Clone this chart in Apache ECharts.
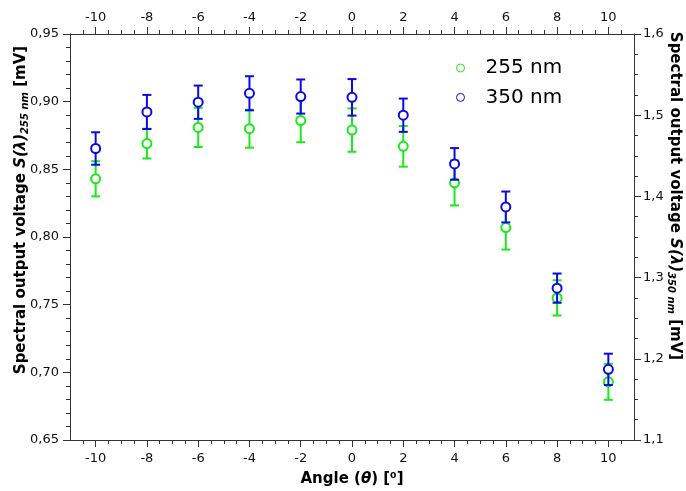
<!DOCTYPE html>
<html><head><meta charset="utf-8">
<script src="https://cdn.jsdelivr.net/npm/echarts@6/dist/echarts.min.js"></script>
<style>html,body{margin:0;padding:0;background:#fff}#c{width:686px;height:491px}</style>
</head><body><div id="c"></div>
<script>
// ---- data ----
const angles = [-10, -8, -6, -4, -2, 0, 2, 4, 6, 8, 10];
const v255 = [0.843, 0.869, 0.881, 0.880, 0.886, 0.879, 0.867, 0.840, 0.807, 0.755, 0.693];
const e255 = [0.013, 0.011, 0.0145, 0.014, 0.016, 0.016, 0.015, 0.0167, 0.0163, 0.013, 0.0133];
const v350 = [1.459, 1.504, 1.516, 1.527, 1.523, 1.522, 1.500, 1.440, 1.387, 1.287, 1.187];
const e350 = [0.020, 0.021, 0.0205, 0.021, 0.021, 0.0225, 0.0205, 0.0195, 0.019, 0.018, 0.0193];
const angleTicks = [-10, -8, -6, -4, -2, 0, 2, 4, 6, 8, 10];
const angleMinorTicks = [-10.5, -9.5, -9, -8.5, -7.5, -7, -6.5, -5.5, -5, -4.5, -3.5, -3, -2.5, -1.5, -1, -0.5,
  0.5, 1, 1.5, 2.5, 3, 3.5, 4.5, 5, 5.5, 6.5, 7, 7.5, 8.5, 9, 9.5, 10.5];
const seriesNames = ['255 nm', '350 nm'];
const colors = ['#1aea1a', '#0a0ae8'];

const FONT = 'DejaVu Sans';
const lineCol = '#333';

function xAx(pos, major, showLabel) {
  return {
    type: 'value', position: pos, min: -11, max: 11,
    splitLine: { show: false },
    axisLine: { show: major, onZero: false, lineStyle: { color: lineCol, width: 1 } },
    axisTick: { show: true, customValues: major ? angleTicks : angleMinorTicks, length: major ? 7 : 4, inside: false,
      lineStyle: { color: lineCol, width: 1 } },
    axisLabel: { show: showLabel, customValues: angleTicks, margin: pos === 'bottom' ? 12 : 10,
      fontFamily: FONT, fontSize: 13, color: '#111' }
  };
}

const errData = (vals, errs) => angles.map((a, i) => [a, vals[i], errs[i]]);

function errSeries(name, vals, errs, yIdx, color, z) {
  return {
    type: 'custom', name: name + ' err', xAxisIndex: 0, yAxisIndex: yIdx,
    data: errData(vals, errs), silent: true, z: z,
    renderItem(params, api) {
      const x = api.value(0), y = api.value(1), e = api.value(2);
      const hi = api.coord([x, y + e]);
      const lo = api.coord([x, y - e]);
      const cw = 4.5;
      const st = { stroke: color, lineWidth: 2 };
      return { type: 'group', children: [
        { type: 'line', shape: { x1: hi[0], y1: hi[1], x2: lo[0], y2: lo[1] }, style: st },
        { type: 'line', shape: { x1: hi[0] - cw, y1: hi[1], x2: hi[0] + cw, y2: hi[1] }, style: st },
        { type: 'line', shape: { x1: lo[0] - cw, y1: lo[1], x2: lo[0] + cw, y2: lo[1] }, style: st }
      ]};
    }
  };
}

const titleRich = {
  b: { fontFamily: FONT, fontWeight: 'bold', fontSize: 15, fill: '#000', lineHeight: 18 },
  i: { fontFamily: FONT, fontWeight: 'bold', fontStyle: 'italic', fontSize: 15, fill: '#000', lineHeight: 18 },
  s: { fontFamily: FONT, fontWeight: 'bold', fontStyle: 'italic', fontSize: 10, fill: '#000', lineHeight: 10, verticalAlign: 'bottom' }
};

const chart = echarts.init(document.getElementById('c'), null, { renderer: 'canvas' });
chart.setOption({
  animation: false,
  backgroundColor: '#fff',
  grid: { left: 70, right: 52, top: 34, bottom: 51, containLabel: false },
  xAxis: [
    xAx('bottom', true, true),
    xAx('bottom', false, false),
    xAx('top', true, true),
    xAx('top', false, false)
  ],
  yAxis: [
    {
      type: 'value', position: 'left', min: 0.65, max: 0.95, interval: 0.05,
      splitLine: { show: false },
      axisLine: { show: true, onZero: false, lineStyle: { color: lineCol, width: 1 } },
      axisTick: { show: true, length: 7, lineStyle: { color: lineCol } },
      minorTick: { show: true, splitNumber: 5, length: 4, lineStyle: { color: lineCol } },
      axisLabel: { margin: 11, fontFamily: FONT, fontSize: 13, color: '#111',
        formatter: v => v.toFixed(2).replace('.', ',') }
    },
    {
      type: 'value', position: 'right', min: 1.1, max: 1.6, interval: 0.1,
      splitLine: { show: false },
      axisLine: { show: true, onZero: false, lineStyle: { color: lineCol, width: 1 } },
      axisTick: { show: true, length: 7, lineStyle: { color: lineCol } },
      minorTick: { show: true, splitNumber: 4, length: 4, lineStyle: { color: lineCol } },
      axisLabel: { margin: 9, fontFamily: FONT, fontSize: 13, color: '#111',
        formatter: v => v.toFixed(1).replace('.', ',') }
    }
  ],
  legend: {
    orient: 'vertical', left: 451, top: 51, itemGap: 5.4,
    itemWidth: 8, itemHeight: 8,
    textStyle: { fontFamily: FONT, fontSize: 20, color: '#000', lineHeight: 24, padding: [0, 0, 0, 16] },
    data: [
      { name: seriesNames[0], icon: 'circle', itemStyle: { color: 'transparent', borderColor: colors[0], borderWidth: 1 } },
      { name: seriesNames[1], icon: 'circle', itemStyle: { color: 'transparent', borderColor: colors[1], borderWidth: 1 } }
    ]
  },
  series: [
    errSeries(seriesNames[0], v255, e255, 0, colors[0], 2),
    {
      type: 'scatter', name: seriesNames[0], xAxisIndex: 0, yAxisIndex: 0, z: 3,
      symbol: 'emptyCircle', symbolSize: 9,
      itemStyle: { color: colors[0], borderWidth: 2, opacity: 1 },
      data: angles.map((a, i) => [a, v255[i]])
    },
    errSeries(seriesNames[1], v350, e350, 1, colors[1], 4),
    {
      type: 'scatter', name: seriesNames[1], xAxisIndex: 0, yAxisIndex: 1, z: 5,
      symbol: 'emptyCircle', symbolSize: 9,
      itemStyle: { color: colors[1], borderWidth: 2, opacity: 1 },
      data: angles.map((a, i) => [a, v350[i]])
    }
  ],
  graphic: [
    { type: 'text', x: 21, y: 210, rotation: Math.PI / 2,
      style: { text: '{b|Spectral output voltage }{i|S(λ)}{s|255 nm}{b| [mV]}', rich: titleRich,
        align: 'center', verticalAlign: 'middle', fill: '#000' } },
    { type: 'text', x: 675, y: 196, rotation: -Math.PI / 2,
      style: { text: '{b|Spectral output voltage }{i|S(λ)}{s|350 nm}{b| [mV]}', rich: titleRich,
        align: 'center', verticalAlign: 'middle', fill: '#000' } },
    { type: 'text', x: 352, y: 479,
      style: { text: '{b|Angle (}{i|θ}{b|) [⁰]}', rich: titleRich,
        align: 'center', verticalAlign: 'middle', fill: '#000' } }
  ]
});
</script>
</body></html>
